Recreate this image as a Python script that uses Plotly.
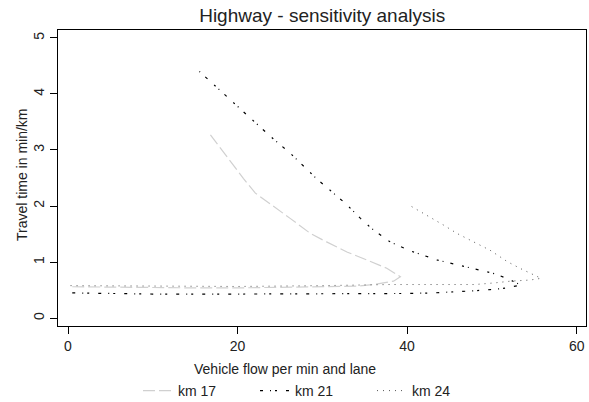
import plotly.graph_objects as go

# km 17 (free-flow branch from low flow to the tip, then congested branch back up)
km17_x = [0.5, 5, 10, 15, 20, 25, 30, 34.1, 36.0, 38.4, 39.2, 37.6, 35.2, 32.9, 30.5, 28.6, 26.2, 23.8, 22.1, 20.7, 18.9, 16.8]
km17_y = [0.56, 0.55, 0.54, 0.54, 0.54, 0.55, 0.55, 0.57, 0.60, 0.66, 0.74, 0.89, 1.04, 1.18, 1.36, 1.51, 1.78, 2.05, 2.23, 2.49, 2.85, 3.27]

# km 21
km21_x = [0.5, 5, 10, 20, 30, 40, 43.1, 46.3, 48.2, 49.8, 51.3, 53.4, 52.2, 50.4, 48.8, 45.4, 43.5, 40.2, 38.0, 35.8, 34.5, 32.7, 31.9, 29.3, 26.3, 24.2, 21.5, 18.3, 15.5]
km21_y = [0.45, 0.44, 0.43, 0.43, 0.43, 0.44, 0.45, 0.47, 0.49, 0.51, 0.53, 0.59, 0.68, 0.79, 0.85, 0.98, 1.04, 1.21, 1.36, 1.60, 1.78, 2.05, 2.15, 2.49, 2.93, 3.20, 3.57, 4.01, 4.40]

# km 24
km24_x = [0.3, 10, 20, 30, 38, 44, 48, 50.4, 52.2, 54.5, 55.8, 53.3, 51.8, 49.8, 47.4, 45.9, 44.3, 41.9, 40.2]
km24_y = [0.58, 0.57, 0.565, 0.58, 0.60, 0.60, 0.60, 0.63, 0.66, 0.68, 0.71, 0.89, 1.01, 1.21, 1.39, 1.51, 1.66, 1.87, 2.02]

x_ticks = [0, 20, 40, 60]
y_ticks = [0, 1, 2, 3, 4, 5]

FONT = "Liberation Sans, Arial, sans-serif"
TXT = "#222222"

fig = go.Figure()
fig.add_trace(go.Scatter(x=km17_x, y=km17_y, mode="lines", name="km 17",
                         line=dict(color="#d0d0d0", width=1.2, dash="12px,4px")))
fig.add_trace(go.Scatter(x=km21_x, y=km21_y, mode="lines", name="km 21",
                         line=dict(color="#000000", width=1.2, dash="3px,7px,1px,4px,2px,9px")))
fig.add_trace(go.Scatter(x=km24_x, y=km24_y, mode="lines", name="km 24",
                         line=dict(color="#555555", width=1, dash="1px,5px")))

fig.update_layout(
    width=589, height=402,
    margin=dict(l=58, r=3, t=30, b=76),
    paper_bgcolor="white", plot_bgcolor="white",
    font=dict(family=FONT, size=14, color=TXT),
    title=dict(text="Highway - sensitivity analysis", x=0.547, xanchor="center",
               y=0.963, yanchor="middle", font=dict(size=19, color=TXT)),
    showlegend=True,
    legend=dict(orientation="h", xref="container", yref="container",
                x=138 / 589, xanchor="left", y=1 - 391 / 402, yanchor="middle",
                font=dict(size=14, color=TXT), entrywidth=72, bgcolor="rgba(0,0,0,0)"),
    xaxis=dict(range=[-1.18, 61.1], tickvals=x_ticks, ticks="outside", ticklen=7, tickwidth=1,
               tickcolor="black", showline=True, linecolor="black", linewidth=1.3, mirror=True,
               showgrid=False, zeroline=False, tickfont=dict(size=14, color=TXT)),
    yaxis=dict(range=[-0.14, 5.14], tickvals=y_ticks, ticks="outside", ticklen=7, tickwidth=1,
               tickcolor="black", showline=True, linecolor="black", linewidth=1.3, mirror=True,
               showgrid=False, zeroline=False, tickangle=-90, tickfont=dict(size=14, color=TXT)),
    annotations=[
        dict(text="Vehicle flow per min and lane", xref="paper", yref="paper",
             x=(285 - 58) / 528, y=(326 - 369) / 296, xanchor="center", yanchor="middle",
             showarrow=False, font=dict(size=14, color=TXT)),
        dict(text="Travel time in min/km", xref="paper", yref="paper",
             x=(22 - 58) / 528, y=(326 - 175) / 296, xanchor="center", yanchor="middle",
             textangle=-90, showarrow=False, font=dict(size=14, color=TXT)),
    ],
)

fig.write_html("out.html")
